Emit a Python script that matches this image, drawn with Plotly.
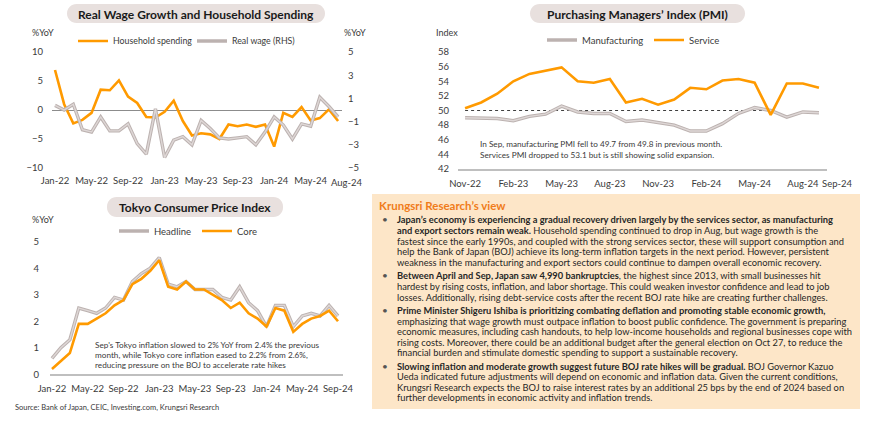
import plotly.graph_objects as go
import pandas as pd

W, H = 870, 425


def px(x):
    return x / W


def py(y):
    return 1 - y / H


# ---------------- data ----------------
wage_months = [d.strftime("%b-%y") for d in pd.date_range("2022-01-01", "2024-08-01", freq="MS")]
household_spending = [6.9, 1.0, -2.3, -1.7, -0.5, 3.5, 3.4, 5.1, 2.3, 1.2, -1.2, -1.3,
                      -0.3, 1.6, -1.9, -4.4, -4.0, -4.2, -5.0, -2.5, -2.8, -2.5, -2.9, -2.5,
                      -6.3, -0.5, -1.2, 0.5, -1.8, -1.4, 0.1, -1.9]
real_wage = [0.4, 0.0, 0.5, -1.7, -1.9, -0.6, -1.8, -1.8, -1.2, -2.9, -3.8, 0.1,
             -4.1, -2.6, -2.3, -3.0, -0.9, -1.6, -2.4, -2.5, -2.4, -2.3, -3.0, -1.9,
             -0.6, -1.3, -2.5, -1.2, -1.4, 1.1, 0.3, -0.6]
wage_ticks = ["Jan-22", "May-22", "Sep-22", "Jan-23", "May-23", "Sep-23", "Jan-24", "May-24"]
wage_last_tick = "Aug-24"

pmi_months = [d.strftime("%b-%y") for d in pd.date_range("2022-11-01", "2024-09-01", freq="MS")]
pmi_service = [50.3, 51.1, 52.3, 54.0, 55.0, 55.4, 55.9, 54.0, 53.8, 54.3, 51.1, 51.6,
               50.8, 51.5, 53.1, 52.9, 54.1, 54.3, 53.8, 49.4, 53.7, 53.7, 53.1]
pmi_manufacturing = [49.0, 48.9, 48.9, 48.6, 49.2, 49.5, 50.6, 49.8, 49.6, 49.6, 48.5, 48.7,
                     48.3, 48.0, 47.2, 47.2, 48.2, 49.6, 50.4, 50.0, 49.1, 49.8, 49.7]
pmi_threshold = 50
pmi_threshold_months = pmi_months[:20]
pmi_ticks = ["Nov-22", "Feb-23", "May-23", "Aug-23", "Nov-23", "Feb-24", "May-24", "Aug-24"]
pmi_last_tick = "Sep-24"

cpi_months = [d.strftime("%b-%y") for d in pd.date_range("2022-01-01", "2024-09-01", freq="MS")]
cpi_headline = [0.6, 1.0, 1.3, 2.5, 2.4, 2.3, 2.5, 2.9, 2.8, 3.5, 3.8, 4.0,
                4.4, 3.4, 3.3, 3.5, 3.2, 3.2, 3.2, 2.9, 2.8, 3.3, 2.7, 2.4,
                1.8, 2.6, 2.6, 1.8, 2.2, 2.3, 2.2, 2.6, 2.2]
cpi_core = [0.2, 0.5, 0.8, 1.9, 1.9, 2.1, 2.3, 2.6, 2.8, 3.4, 3.6, 3.9,
            4.3, 3.3, 3.2, 3.5, 3.2, 3.2, 3.0, 2.8, 2.5, 2.7, 2.3, 2.1,
            1.8, 2.5, 2.4, 1.6, 1.9, 2.1, 2.2, 2.4, 2.0]
cpi_ticks = ["Jan-22", "May-22", "Sep-22", "Jan-23", "May-23", "Sep-23", "Jan-24", "May-24", "Sep-24"]

# ---------------- style ----------------
FONT = "Lato"
ORANGE = "#FF9A00"
GRAY_OUT = "#BCB2B0"
GRAY_IN = "#DED7D6"
TXT = "#3A3A3A"
PILL = "#E8E0DE"
BOX = "#FDE6C8"
TICK_SIZE = 9.5

fig = go.Figure()

# Chart 1
fig.add_trace(go.Scatter(x=wage_months, y=household_spending, name="Household spending",
                         mode="lines", line=dict(color=ORANGE, width=2.6),
                         xaxis="x", yaxis="y", legend="legend"))
fig.add_trace(go.Scatter(x=wage_months, y=real_wage, name="Real wage (RHS)",
                         mode="lines", line=dict(color=GRAY_OUT, width=3.4),
                         xaxis="x", yaxis="y2", legend="legend"))
fig.add_trace(go.Scatter(x=wage_months, y=real_wage, showlegend=False, hoverinfo="skip",
                         mode="lines", line=dict(color=GRAY_IN, width=1.4),
                         xaxis="x", yaxis="y2"))

# Chart 2
fig.add_trace(go.Scatter(x=pmi_threshold_months, y=[pmi_threshold] * len(pmi_threshold_months),
                         showlegend=False, hoverinfo="skip", mode="lines",
                         line=dict(color="#404040", width=1, dash="dot"),
                         xaxis="x2", yaxis="y3"))
fig.add_trace(go.Scatter(x=pmi_months, y=pmi_manufacturing, name="Manufacturing",
                         mode="lines", line=dict(color=GRAY_OUT, width=3.4),
                         xaxis="x2", yaxis="y3", legend="legend2"))
fig.add_trace(go.Scatter(x=pmi_months, y=pmi_manufacturing, showlegend=False, hoverinfo="skip",
                         mode="lines", line=dict(color=GRAY_IN, width=1.4),
                         xaxis="x2", yaxis="y3"))
fig.add_trace(go.Scatter(x=pmi_months, y=pmi_service, name="Service",
                         mode="lines", line=dict(color=ORANGE, width=2.6),
                         xaxis="x2", yaxis="y3", legend="legend2"))

# Chart 3
fig.add_trace(go.Scatter(x=cpi_months, y=cpi_headline, name="Headline",
                         mode="lines", line=dict(color=GRAY_OUT, width=3.4),
                         xaxis="x3", yaxis="y4", legend="legend3"))
fig.add_trace(go.Scatter(x=cpi_months, y=cpi_headline, showlegend=False, hoverinfo="skip",
                         mode="lines", line=dict(color=GRAY_IN, width=1.4),
                         xaxis="x3", yaxis="y4"))
fig.add_trace(go.Scatter(x=cpi_months, y=cpi_core, name="Core",
                         mode="lines", line=dict(color=ORANGE, width=2.6),
                         xaxis="x3", yaxis="y4", legend="legend3"))

tickfont = dict(family=FONT, size=TICK_SIZE, color=TXT)

common_x = dict(type="category", showgrid=False, zeroline=False, ticks="", automargin=False,
                tickfont=tickfont, tickangle=0, fixedrange=True, ticklabelstandoff=5)
common_y = dict(showgrid=False, ticks="", tickfont=tickfont, fixedrange=True, automargin=False)

legfont = dict(family=FONT, size=TICK_SIZE, color=TXT)

fig.update_layout(
    width=W, height=H,
    margin=dict(l=0, r=0, t=0, b=0, pad=0, autoexpand=False),
    paper_bgcolor="white", plot_bgcolor="rgba(0,0,0,0)",
    font=dict(family=FONT, color=TXT),
    xaxis=dict(common_x, domain=[px(52), px(342)], range=[-0.33, 31.43], anchor="y",
               tickmode="array", tickvals=wage_ticks, ticktext=wage_ticks, showline=False),
    yaxis=dict(common_y, domain=[py(168), py(52)], range=[-10, 10], dtick=5, anchor="x",
               zeroline=True, zerolinecolor="#8C8C8C", zerolinewidth=1, ticklabelstandoff=8),
    yaxis2=dict(common_y, overlaying="y", side="right", range=[-5, 5], tick0=1, dtick=2,
                anchor="x", zeroline=False, ticklabelstandoff=5),
    xaxis2=dict(common_x, domain=[px(458), px(827)], range=[-0.44, 22.5], anchor="y3",
                tickmode="array", tickvals=pmi_ticks, ticktext=pmi_ticks,
                showline=True, linecolor="#BFBFBF", linewidth=1.5),
    yaxis3=dict(common_y, domain=[py(169), py(52)], range=[42, 58], dtick=2, anchor="x2",
                zeroline=False, ticklabelstandoff=8),
    xaxis3=dict(common_x, domain=[px(50), px(343)], range=[-0.22, 32.56], anchor="y4",
                tickmode="array", tickvals=cpi_ticks, ticktext=cpi_ticks,
                showline=True, linecolor="#BFBFBF", linewidth=1.5),
    yaxis4=dict(common_y, domain=[py(374.3), py(241.7)], range=[0, 5], dtick=1, anchor="x3",
                zeroline=False, ticklabelstandoff=10),
    legend=dict(orientation="h", x=px(73), y=py(41), xanchor="left", yanchor="middle",
                font=dict(legfont, size=8.8), bgcolor="rgba(0,0,0,0)", itemwidth=30,
                entrywidthmode="pixels", entrywidth=74),
    legend2=dict(orientation="h", x=px(542), y=py(40), xanchor="left", yanchor="middle",
                 font=legfont, bgcolor="rgba(0,0,0,0)", itemwidth=30,
                 entrywidthmode="pixels", entrywidth=62),
    legend3=dict(orientation="h", x=px(114), y=py(231), xanchor="left", yanchor="middle",
                 font=legfont, bgcolor="rgba(0,0,0,0)", itemwidth=30,
                 entrywidthmode="pixels", entrywidth=38),
)


def rounded_rect(x0, y0, x1, y1, r):
    def P(x, y):
        return f"{px(x):.5f},{py(y):.5f}"
    k = 0.5523 * r
    path = (f"M {P(x0 + r, y0)} L {P(x1 - r, y0)} "
            f"C {P(x1 - r + k, y0)} {P(x1, y0 + r - k)} {P(x1, y0 + r)} "
            f"L {P(x1, y1 - r)} "
            f"C {P(x1, y1 - r + k)} {P(x1 - r + k, y1)} {P(x1 - r, y1)} "
            f"L {P(x0 + r, y1)} "
            f"C {P(x0 + r - k, y1)} {P(x0, y1 - r + k)} {P(x0, y1 - r)} "
            f"L {P(x0, y0 + r)} "
            f"C {P(x0, y0 + r - k)} {P(x0 + r - k, y0)} {P(x0 + r, y0)} Z")
    return path


shapes = []
for (x0, y0, x1, y1) in [(67, 4, 325, 23), (530, 4, 745, 23), (107, 197, 283, 217)]:
    shapes.append(dict(type="path", xref="paper", yref="paper",
                       path=rounded_rect(x0, y0, x1, y1, 9.5),
                       fillcolor=PILL, line=dict(width=0), layer="below"))
shapes.append(dict(type="rect", xref="paper", yref="paper",
                   x0=px(372), x1=px(860), y0=py(409), y1=py(194),
                   fillcolor=BOX, line=dict(width=0), layer="below"))
fig.update_layout(shapes=shapes)

ann = []


def text(x, y, s, size=10.5, color=TXT, xanchor="left", bold=False):
    if bold:
        s = f"<b>{s}</b>"
    ann.append(dict(xref="paper", yref="paper", x=px(x), y=py(y), text=s,
                    showarrow=False, xanchor=xanchor, yanchor="middle",
                    font=dict(family=FONT, size=size, color=color)))


# titles
text(196, 14, "Real Wage Growth and Household Spending", size=12, color="#1A1A1A", xanchor="center", bold=True)
text(637, 14, "Purchasing Managers’ Index (PMI)", size=12, color="#1A1A1A", xanchor="center", bold=True)
text(195, 207, "Tokyo Consumer Price Index", size=12, color="#1A1A1A", xanchor="center", bold=True)

# axis titles
text(30, 33, "%YoY", size=9)
text(342, 33, "%YoY", size=9)
text(434, 32, "Index", size=9)
text(30, 219, "%YoY", size=9)

# last tick labels shifted like the original
text(347, 182, wage_last_tick, size=TICK_SIZE, xanchor="center")
text(837, 183, pmi_last_tick, size=TICK_SIZE, xanchor="center")

# chart notes
NOTE = 8.2
text(478, 144, "In Sep, manufacturing PMI fell to 49.7 from 49.8 in previous month.", size=NOTE)
text(478, 155, "Services PMI dropped to 53.1 but is still showing solid expansion.", size=NOTE)
text(93, 345, "Sep's Tokyo inflation slowed to 2% YoY from 2.4% the previous", size=NOTE)
text(93, 355, "month, while Tokyo core inflation eased to 2.2% from 2.6%,", size=NOTE)
text(93, 364.5, "reducing pressure on the BOJ to accelerate rate hikes", size=NOTE)

text(13, 407, "Source: Bank of Japan, CEIC, Investing.com, Krungsri Research", size=7.5)

# Krungsri view box
text(377, 206, "Krungsri Research’s view", size=11.5, color="#F07C1A", bold=True)

bullets = [
    [(219, "<b>Japan’s economy is experiencing a gradual recovery driven largely by the services sector, as manufacturing</b>"),
     (230.5, "<b>and export sectors remain weak.</b> Household spending continued to drop in Aug, but wage growth is the"),
     (241.5, "fastest since the early 1990s, and coupled with the strong services sector, these will support consumption and"),
     (252, "help the Bank of Japan (BOJ) achieve its long-term inflation targets in the next period. However, persistent"),
     (262.5, "weakness in the manufacturing and export sectors could continue to dampen overall economic recovery.")],
    [(275, "<b>Between April and Sep, Japan saw 4,990 bankruptcies</b>, the highest since 2013, with small businesses hit"),
     (286, "hardest by rising costs, inflation, and labor shortage. This could weaken investor confidence and lead to job"),
     (297, "losses. Additionally, rising debt-service costs after the recent BOJ rate hike are creating further challenges.")],
    [(310, "<b>Prime Minister Shigeru Ishiba is prioritizing combating deflation and promoting stable economic growth,</b>"),
     (321, "emphasizing that wage growth must outpace inflation to boost public confidence. The government is preparing"),
     (331.5, "economic measures, including cash handouts, to help low-income households and regional businesses cope with"),
     (342, "rising costs. Moreover, there could be an additional budget after the general election on Oct 27, to reduce the"),
     (352.5, "financial burden and stimulate domestic spending to support a sustainable recovery.")],
    [(366, "<b>Slowing inflation and moderate growth suggest future BOJ rate hikes will be gradual.</b> BOJ Governor Kazuo"),
     (376.5, "Ueda indicated future adjustments will depend on economic and inflation data. Given the current conditions,"),
     (387, "Krungsri Research expects the BOJ to raise interest rates by an additional 25 bps by the end of 2024 based on"),
     (397.5, "further developments in economic activity and inflation trends.")],
]
for lines in bullets:
    text(380, lines[0][0], "•", size=10, color="#555555")
    for (yy, s) in lines:
        text(395, yy, s, size=9.3, color="#262626")

fig.update_layout(annotations=ann)

fig.write_html("out.html", config={"displayModeBar": False},
               post_script="document.body.style.margin='0px';")
